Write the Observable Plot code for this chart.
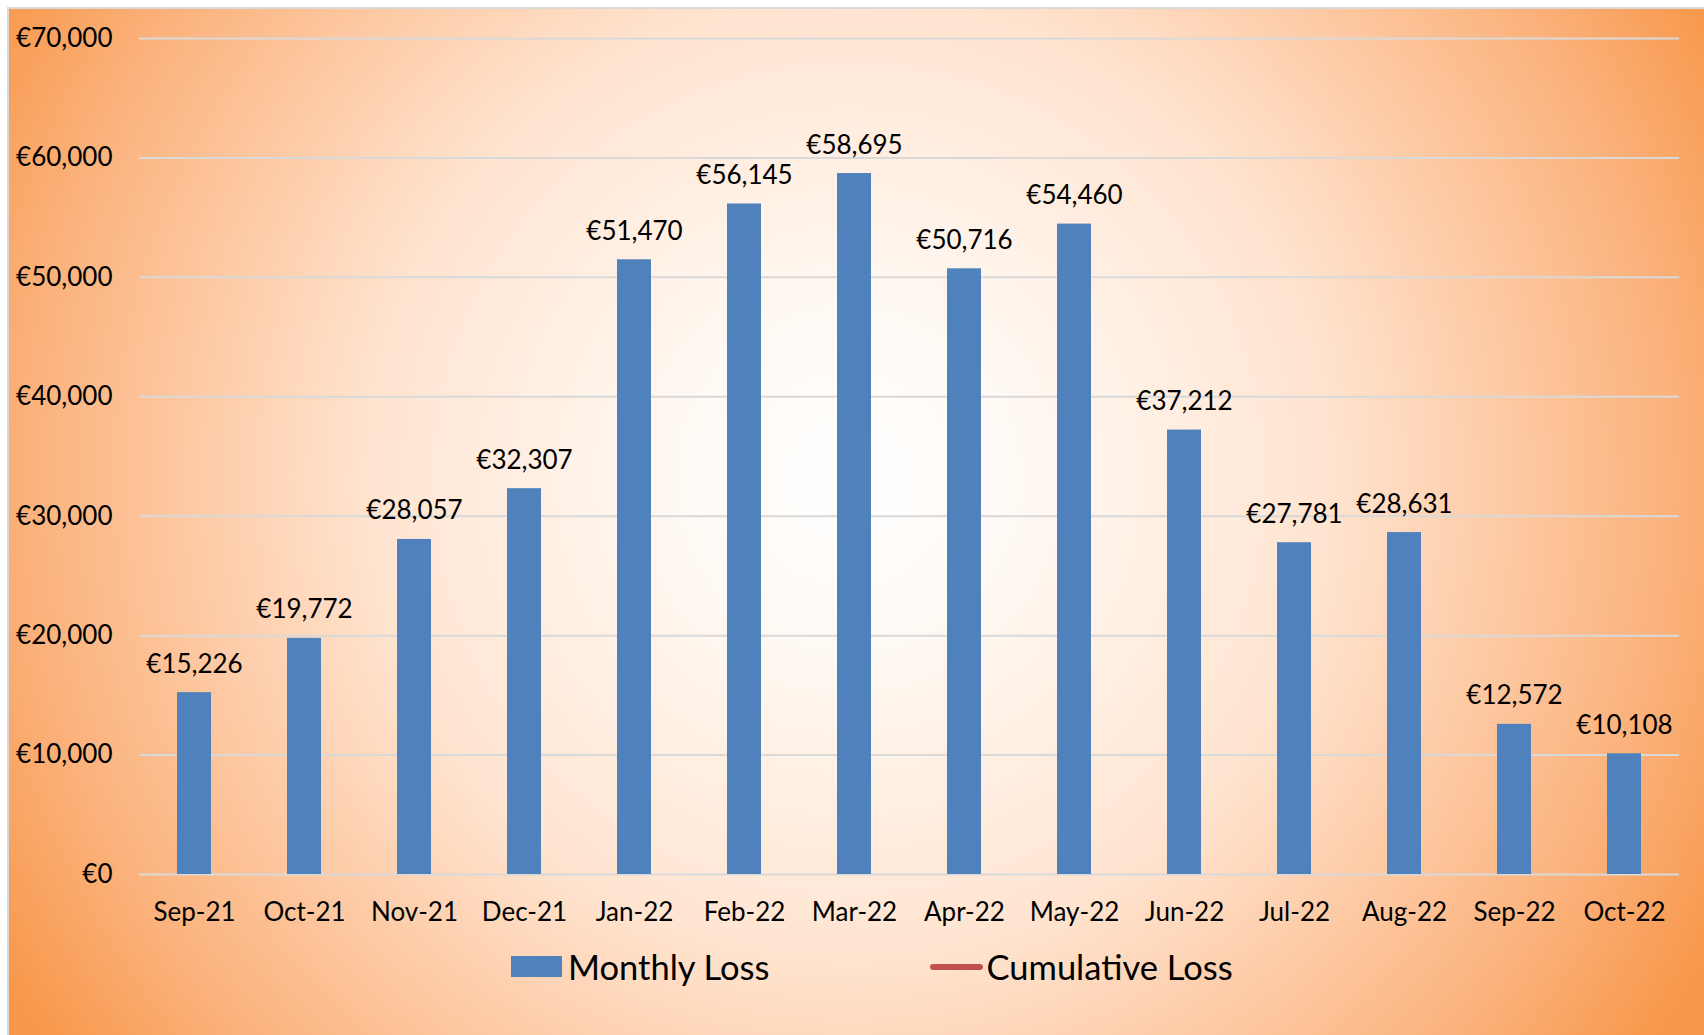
<!DOCTYPE html>
<html>
<head>
<meta charset="utf-8">
<script src="https://cdn.jsdelivr.net/npm/d3@7"></script>
<script src="https://cdn.jsdelivr.net/npm/@observablehq/plot@0.6"></script>
<style>
  html, body { margin: 0; padding: 0; overflow: hidden; background: #fff; width: 1704px; height: 1035px; }
  #frame {
    position: absolute; left: 7px; top: 7px; width: 1710px; height: 1040px;
    border: 2px solid #d9d9d9; box-sizing: border-box;
    background: radial-gradient(circle at 840px 470px, #ffffff 0px, #fffaf5 160px, #ffe4d0 480px, #fbb27c 820px, #f79648 990px);
    font-family: Lato, "Open Sans", sans-serif;
  }
  #chart { position: absolute; left: 0; top: 0; }
  #legend { position: absolute; left: 502px; top: 937px; display: flex; align-items: center; font-size: 34.5px; color: #000; }
  .sw { width: 51px; height: 21px; background: #4f81bd; margin-right: 6px; }
  .ln { width: 53px; height: 6px; border-radius: 3px; background: #c0504d; margin-right: 4px; margin-left: 160px; }
</style>
</head>
<body>
<div id="frame">
  <div id="chart"></div>
  <div id="legend"><div class="sw"></div><span>Monthly Loss</span><div class="ln"></div><span>Cumulative Loss</span></div>
</div>
<script>
const months = ["Sep-21","Oct-21","Nov-21","Dec-21","Jan-22","Feb-22","Mar-22","Apr-22","May-22","Jun-22","Jul-22","Aug-22","Sep-22","Oct-22"];
const monthlyLoss = [15226,19772,28057,32307,51470,56145,58695,50716,54460,37212,27781,28631,12572,10108];
const yTicks = [0,10000,20000,30000,40000,50000,60000,70000];

const euro = v => "€" + d3.format(",")(v);
const data = months.map((m, i) => ({month: m, loss: monthlyLoss[i]}));

const chart = Plot.plot({
  width: 1696,
  height: 940,
  marginLeft: 130,
  marginRight: 26,
  marginTop: 29,
  marginBottom: 75,
  style: {background: "transparent", fontFamily: "Lato, 'Open Sans', sans-serif", fontSize: "26px", color: "#000", overflow: "visible"},
  x: {domain: months, paddingInner: 0.69, paddingOuter: 0.345, label: null},
  y: {domain: [0, 70000], label: null},
  marks: [
    Plot.ruleY(yTicks, {stroke: "#d9d9d9", strokeWidth: 2}),
    Plot.barY(data, {x: "month", y: "loss", fill: "#4f81bd"}),
    Plot.text(data, {x: "month", y: "loss", text: d => euro(d.loss), lineAnchor: "bottom", dy: -20, fontSize: 26, fill: "#000"}),
    Plot.axisX({tickSize: 0, tickPadding: 28, fontSize: 26, label: null}),
    Plot.axisY({ticks: yTicks, tickFormat: euro, tickSize: 0, tickPadding: 27, fontSize: 26, label: null})
  ]
});
document.getElementById("chart").appendChild(chart);
</script>
</body>
</html>
